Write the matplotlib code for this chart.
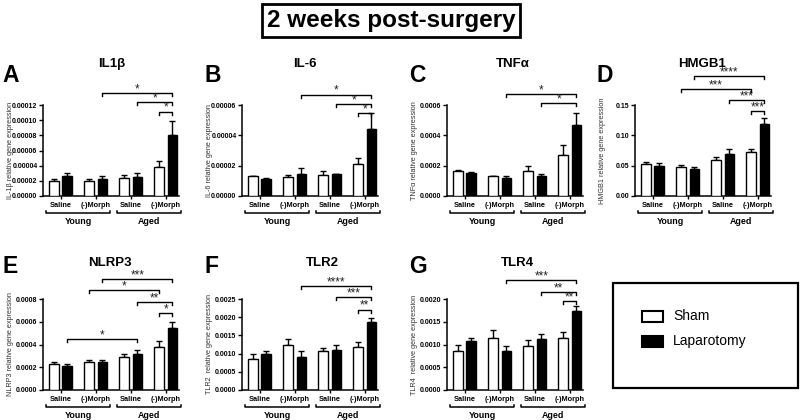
import numpy as np
import matplotlib
matplotlib.use('Agg')
import matplotlib.pyplot as plt
from matplotlib.patches import Rectangle

plt.rcParams['font.family'] = ['Liberation Sans', 'DejaVu Sans']

# group order: Young Saline, Young (-)Morph, Aged Saline, Aged (-)Morph
groups = ['Saline', '(-)Morph', 'Saline', '(-)Morph']
ages = ['Young', 'Aged']

il1b_sham = [2.02e-5, 2.02e-5, 2.33e-5, 3.78e-5]
il1b_sham_err = [0.25e-5, 0.22e-5, 0.44e-5, 0.79e-5]
il1b_lap = [2.59e-5, 2.2e-5, 2.45e-5, 8.0e-5]
il1b_lap_err = [0.4e-5, 0.4e-5, 0.62e-5, 1.85e-5]

il6_sham = [1.3e-5, 1.25e-5, 1.37e-5, 2.1e-5]
il6_sham_err = [0.05e-5, 0.12e-5, 0.3e-5, 0.38e-5]
il6_lap = [1.1e-5, 1.45e-5, 1.42e-5, 4.45e-5]
il6_lap_err = [0.1e-5, 0.38e-5, 0.05e-5, 1.0e-5]

tnf_sham = [1.64e-4, 1.31e-4, 1.66e-4, 2.71e-4]
tnf_sham_err = [0.1e-4, 0.04e-4, 0.33e-4, 0.67e-4]
tnf_lap = [1.5e-4, 1.2e-4, 1.33e-4, 4.67e-4]
tnf_lap_err = [0.1e-4, 0.13e-4, 0.13e-4, 0.83e-4]

hmgb1_sham = [0.0533, 0.0484, 0.059, 0.0725]
hmgb1_sham_err = [0.0022, 0.002, 0.006, 0.0055]
hmgb1_lap = [0.050, 0.044, 0.069, 0.119]
hmgb1_lap_err = [0.004, 0.003, 0.008, 0.009]

nlrp3_sham = [2.26e-4, 2.44e-4, 2.88e-4, 3.82e-4]
nlrp3_sham_err = [0.18e-4, 0.18e-4, 0.27e-4, 0.53e-4]
nlrp3_lap = [2.15e-4, 2.44e-4, 3.18e-4, 5.44e-4]
nlrp3_lap_err = [0.11e-4, 0.24e-4, 0.35e-4, 0.56e-4]

tlr2_sham = [0.00085, 0.00124, 0.00107, 0.00118]
tlr2_sham_err = [0.00013, 0.00016, 0.00008, 0.00015]
tlr2_lap = [0.00098, 0.00091, 0.0011, 0.00186]
tlr2_lap_err = [0.00009, 0.00015, 0.00014, 0.00012]

tlr4_sham = [0.00085, 0.00114, 0.00096, 0.00115]
tlr4_sham_err = [0.00014, 0.00018, 0.00013, 0.00013]
tlr4_lap = [0.00108, 0.00086, 0.00112, 0.00173]
tlr4_lap_err = [0.00007, 0.0001, 0.0001, 0.00012]

# significance brackets: (bar a, bar b, height, stars); bars 0..7 = group*2 + (0 sham, 1 lap)
il1b_sig = [(3, 7, 1.36e-4, '*'), (5, 7, 1.235e-4, '*'), (6, 7, 1.112e-4, '*')]
il6_sig = [(3, 7, 6.69e-5, '*'), (5, 7, 6.06e-5, '*'), (6, 7, 5.46e-5, '*')]
tnf_sig = [(3, 7, 6.74e-4, '*'), (5, 7, 6.11e-4, '*')]
hmgb1_sig = [(3, 7, 0.197, '****'), (2, 6, 0.176, '***'), (5, 7, 0.158, '***'), (6, 7, 0.140, '***')]
nlrp3_sig = [(3, 7, 9.76e-4, '***'), (2, 6, 8.76e-4, '*'), (5, 7, 7.74e-4, '**'),
             (6, 7, 6.76e-4, '*'), (1, 5, 4.47e-4, '*')]
tlr2_sig = [(3, 7, 2.85e-3, '****'), (5, 7, 2.55e-3, '***'), (6, 7, 2.21e-3, '**')]
tlr4_sig = [(3, 7, 2.41e-3, '***'), (5, 7, 2.15e-3, '**'), (6, 7, 1.95e-3, '**')]

W, H = 800, 420
AX_W, AX_H = 136, 91
OFF, BW = 0.19, 0.27


def fx(x):
    return x / W


def fy(y):
    return 1 - y / H


fig = plt.figure(figsize=(8, 4.2), dpi=100)


def bar_x(i):
    return i // 2 + (OFF if i % 2 else -OFF)


def panel(left, bottom, letter, title, title_x, ylabel, sham, sham_err, lap, lap_err,
          ymax, step, dec, sig):
    ax = fig.add_axes([fx(left), fy(bottom), AX_W / W, AX_H / H])
    x = np.arange(4)
    b1 = ax.bar(x - OFF, sham, BW, color='white', edgecolor='black', linewidth=1, zorder=3)
    b2 = ax.bar(x + OFF, lap, BW, color='black', edgecolor='black', linewidth=1, zorder=3)
    ax.errorbar(x - OFF, sham, yerr=[np.zeros(4), sham_err], fmt='none', ecolor='black',
                elinewidth=1, capsize=2.5, capthick=1, zorder=2)
    ax.errorbar(x + OFF, lap, yerr=[np.zeros(4), lap_err], fmt='none', ecolor='black',
                elinewidth=1, capsize=2.5, capthick=1, zorder=2)
    ax.set_xlim(-0.5, 3.38)
    ax.set_ylim(0, ymax)
    ticks = np.arange(0, ymax + step / 2, step)
    ax.set_yticks(ticks, labels=[f'{t:.{dec}f}' for t in ticks], fontweight='bold')
    ax.set_xticks(x, labels=groups, fontweight='bold')
    ax.tick_params(axis='y', direction='out', length=3, width=1, labelsize=5, pad=1)
    ax.tick_params(axis='x', direction='out', length=2.5, width=1, labelsize=5.3, pad=1.5)
    for s in ['top', 'right']:
        ax.spines[s].set_visible(False)
    for s in ['left', 'bottom']:
        ax.spines[s].set_linewidth(1.1)
    ax.set_ylabel(ylabel, fontsize=5.2, color='#333333')
    ax.yaxis.set_label_coords(-0.215, 0.5)

    # age brackets under the axis
    tr = ax.get_xaxis_transform()
    yb = -17 / AX_H
    tick = 2.5 / AX_H
    for (x0, x1), name in zip([(-0.42, 1.42), (1.6, 3.45)], ages):
        ax.plot([x0, x0, x1, x1], [yb + tick, yb, yb, yb + tick], color='black', lw=1.1,
                transform=tr, clip_on=False)
        ax.text((x0 + x1) / 2, -26 / AX_H, name, transform=tr, ha='center', va='center',
                fontsize=6.4, fontweight='bold')

    # significance brackets
    d = 3 / AX_H * ymax
    for a, b, h, stars in sig:
        xa, xb = bar_x(a), bar_x(b)
        ax.plot([xa, xa, xb, xb], [h - d, h, h, h - d], color='black', lw=1, clip_on=False)
        ax.text((xa + xb) / 2, h + 0.8 / AX_H * ymax, stars, ha='center', va='baseline',
                fontsize=8.5, color='#222222')

    top_px = bottom - AX_H
    fig.text(fx(title_x), fy(top_px - 38 if bottom < 300 else top_px - 33), title,
             ha='center', va='baseline', fontsize=9.5, fontweight='bold')
    fig.text(fx(left - 41 if letter in 'AE' else left - 38), fy(top_px - 23 if bottom < 300 else top_px - 26),
             letter, ha='left', va='baseline', fontsize=16.5, fontweight='bold')
    return b1, b2


bars = panel(43, 196, 'A', 'IL1β', 112, 'IL-1β relative gene expression',
             il1b_sham, il1b_sham_err, il1b_lap, il1b_lap_err, 0.00012, 0.00002, 5, il1b_sig)
panel(242, 196, 'B', 'IL-6', 305, 'IL-6 relative gene expression',
      il6_sham, il6_sham_err, il6_lap, il6_lap_err, 0.00006, 0.00002, 5, il6_sig)
panel(447, 196, 'C', 'TNFα', 513, 'TNFα relative gene expression',
      tnf_sham, tnf_sham_err, tnf_lap, tnf_lap_err, 0.0006, 0.0002, 4, tnf_sig)
panel(635, 196, 'D', 'HMGB1', 702, 'HMGB1 relative gene expression',
      hmgb1_sham, hmgb1_sham_err, hmgb1_lap, hmgb1_lap_err, 0.15, 0.05, 2, hmgb1_sig)
panel(43, 390, 'E', 'NLRP3', 110, 'NLRP3 relative gene expression',
      nlrp3_sham, nlrp3_sham_err, nlrp3_lap, nlrp3_lap_err, 0.0008, 0.0002, 4, nlrp3_sig)
panel(242, 390, 'F', 'TLR2', 322, 'TLR2  relative gene expression',
      tlr2_sham, tlr2_sham_err, tlr2_lap, tlr2_lap_err, 0.0025, 0.0005, 4, tlr2_sig)
panel(447, 390, 'G', 'TLR4', 517, 'TLR4  relative gene expression',
      tlr4_sham, tlr4_sham_err, tlr4_lap, tlr4_lap_err, 0.0020, 0.0005, 4, tlr4_sig)

# main title in a box
fig.patches.append(Rectangle((fx(262), fy(37)), 258 / W, 33 / H, transform=fig.transFigure,
                             fill=False, edgecolor='black', linewidth=2))
fig.text(fx(391), fy(20), '2 weeks post-surgery', ha='center', va='center',
         fontsize=17.5, fontweight='bold')

# legend box
fig.patches.append(Rectangle((fx(613), fy(388)), 185 / W, 105 / H, transform=fig.transFigure,
                             fill=False, edgecolor='black', linewidth=1.6))
for (face, label), yc in zip([('white', 'Sham'), ('black', 'Laparotomy')], [316, 341]):
    fig.patches.append(Rectangle((fx(642), fy(yc + 5.5)), 21 / W, 11 / H, transform=fig.transFigure,
                                 facecolor=face, edgecolor='black', linewidth=1.5))
    fig.text(fx(673), fy(yc), label, ha='left', va='center', fontsize=10)

fig.savefig('out.png', dpi=100)
